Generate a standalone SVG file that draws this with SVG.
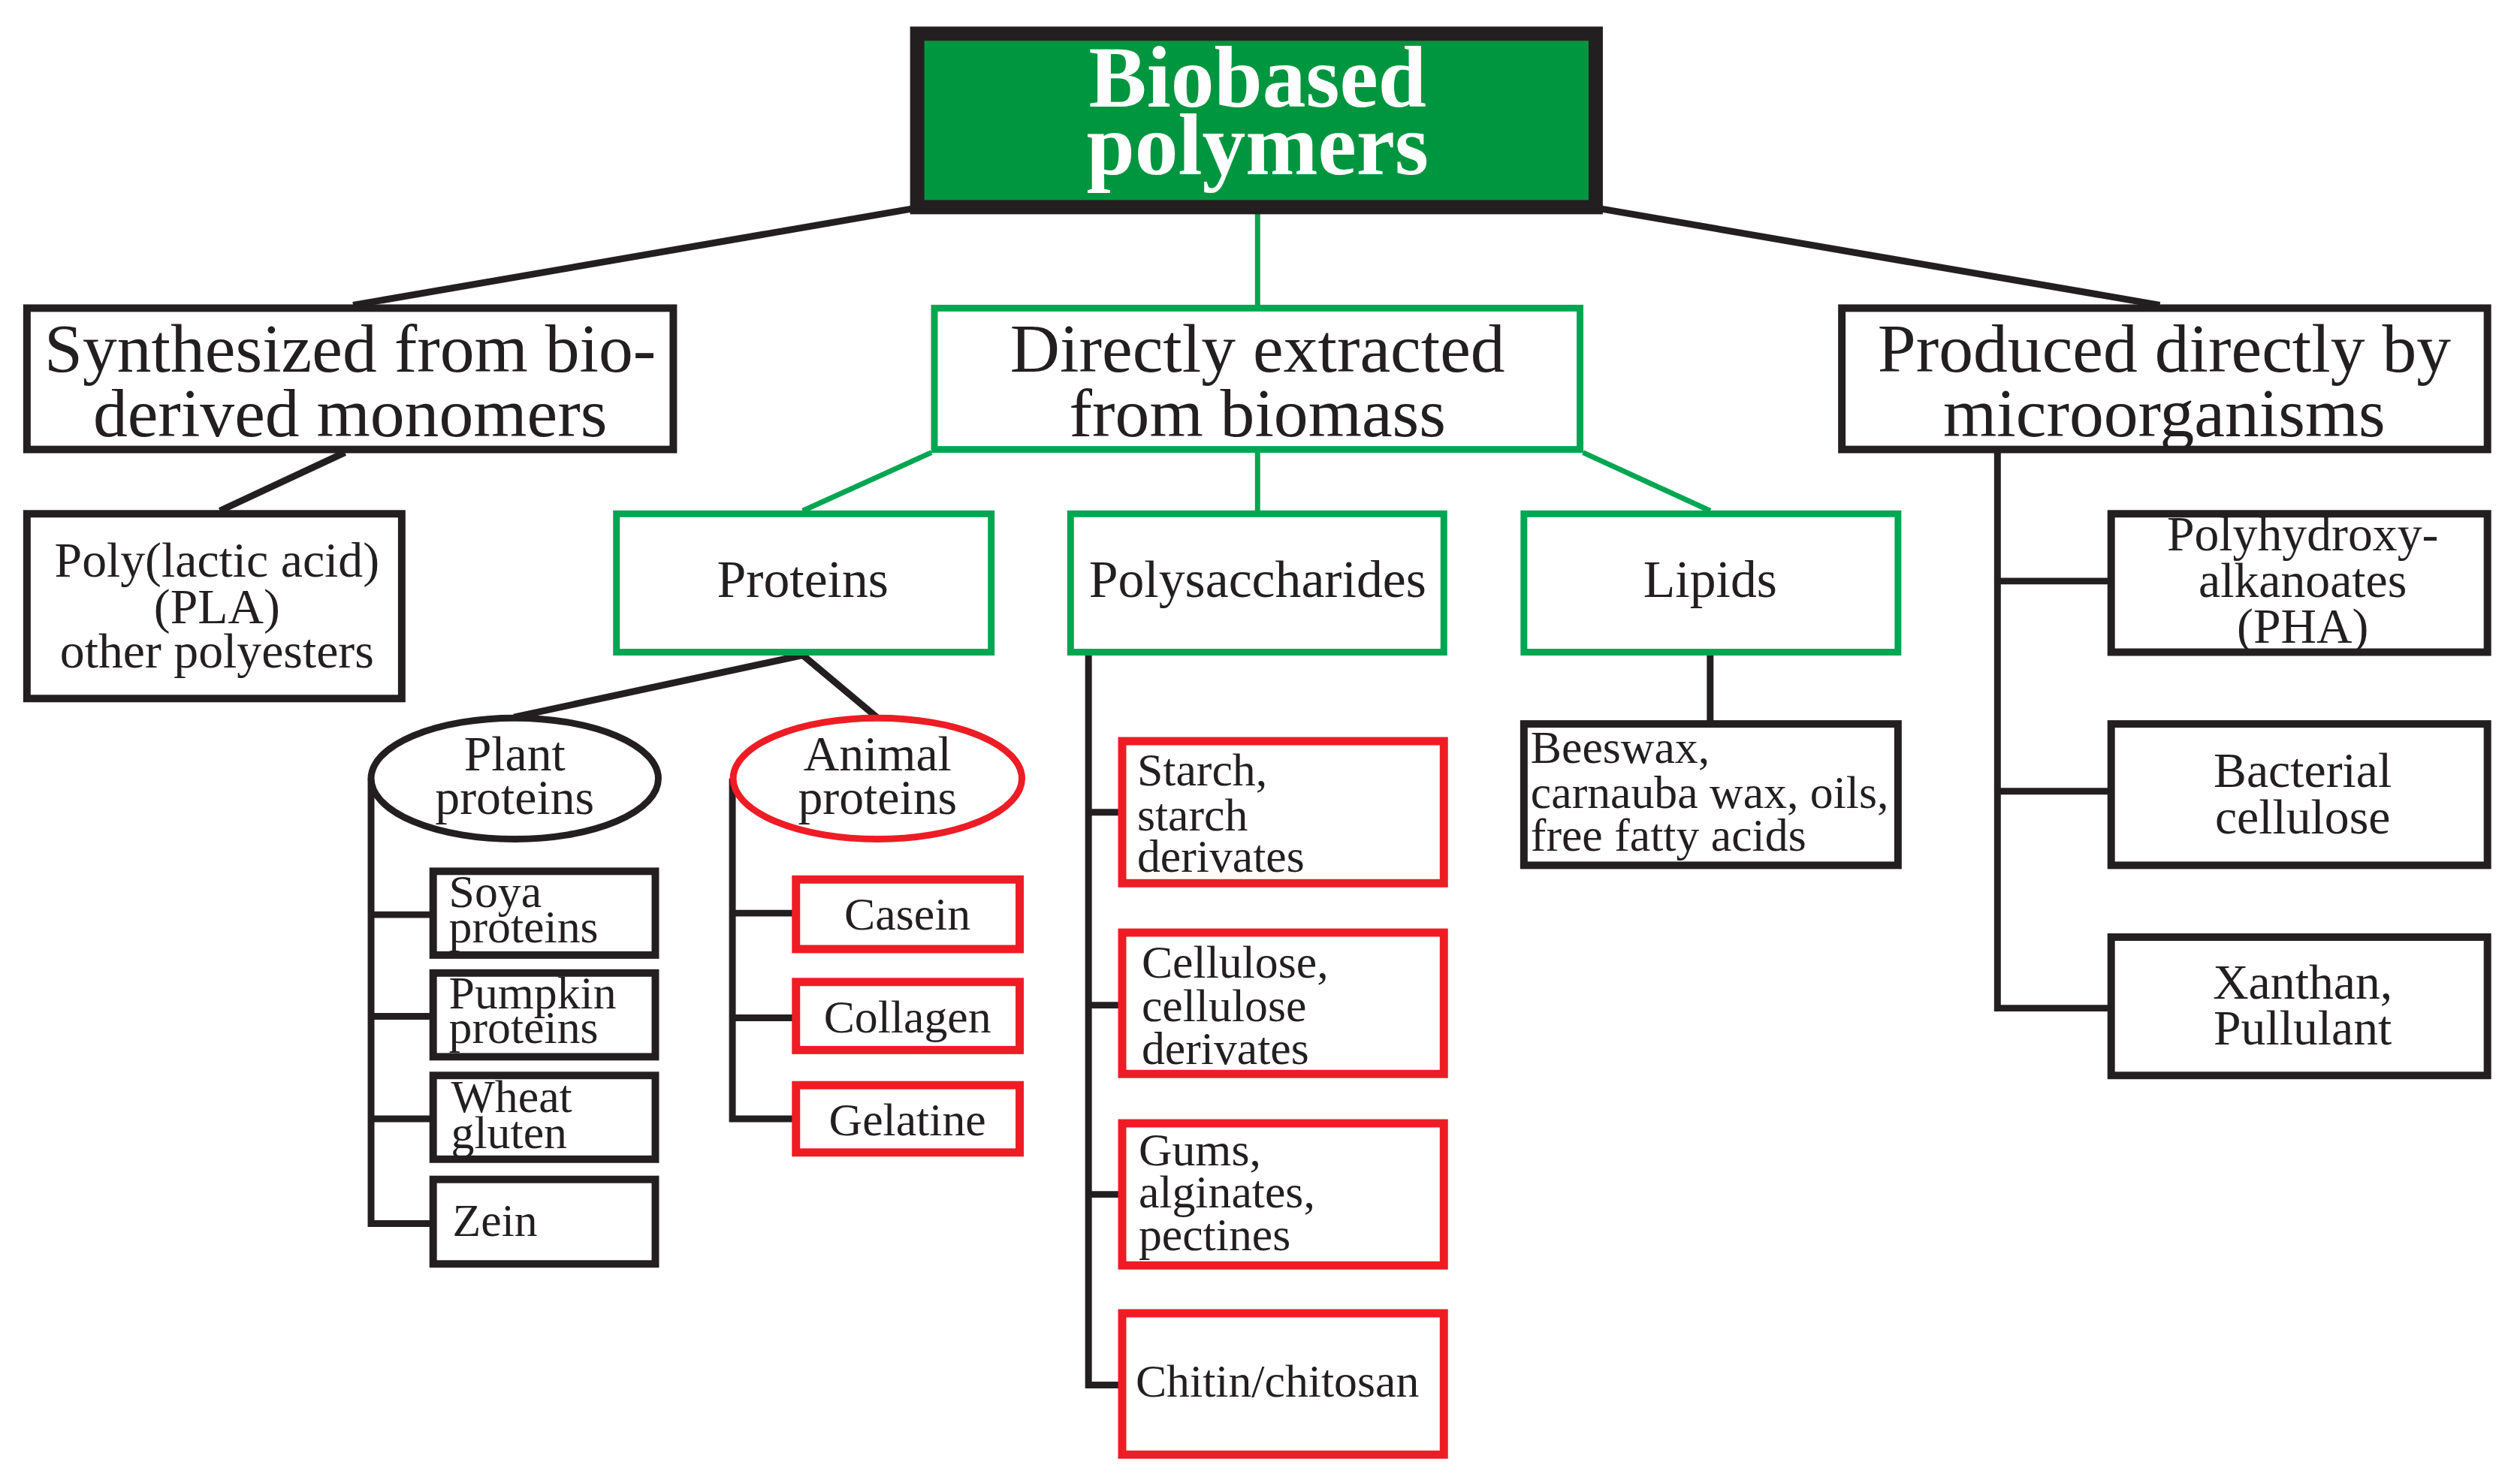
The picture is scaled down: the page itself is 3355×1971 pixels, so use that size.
<svg xmlns="http://www.w3.org/2000/svg" width="3355" height="1971" viewBox="0 0 3355 1971">
<style>
text{font-family:"Liberation Serif","Times New Roman",serif;fill:#231f20}
.c{text-anchor:middle}
.bk{fill:#fff;stroke:#231f20;stroke-width:10}
.gr{fill:#fff;stroke:#00a651;stroke-width:9}
.rd{fill:#fff;stroke:#ee1c25;stroke-width:11}
.lb{fill:none;stroke:#231f20;stroke-width:9}
.lg{fill:none;stroke:#00a651;stroke-width:7}
.f92{font-size:92px}
.f70{font-size:70px}
.f66{font-size:66px}
.f62{font-size:62px}
</style>
<rect width="3355" height="1971" fill="#fff"/>
<g transform="scale(0.996)">
<g id="connectors">
<line class="lb" x1="1220" y1="279" x2="472" y2="408"/>
<line class="lb" x1="2139" y1="279" x2="2887" y2="408"/>
<line class="lg" x1="1681" y1="285" x2="1681" y2="408"/>
<line class="lb" x1="461" y1="605" x2="294" y2="683"/>
<line class="lg" x1="1245" y1="605" x2="1073" y2="683"/>
<line class="lg" x1="1681" y1="605" x2="1681" y2="683"/>
<line class="lg" x1="2116" y1="605" x2="2286" y2="683"/>
<line class="lb" x1="1073" y1="876" x2="687" y2="959"/>
<line class="lb" x1="1073" y1="876" x2="1172" y2="959"/>
<line class="lb" x1="2286" y1="876" x2="2286" y2="964"/>
<polyline class="lb" points="2670,605 2670,1348 2818,1348"/>
<line class="lb" x1="2670" y1="777" x2="2818" y2="777"/>
<line class="lb" x1="2670" y1="1058" x2="2818" y2="1058"/>
<polyline class="lb" points="496,1041 496,1636 575,1636"/>
<line class="lb" x1="496" y1="1223" x2="575" y2="1223"/>
<line class="lb" x1="496" y1="1359" x2="575" y2="1359"/>
<line class="lb" x1="496" y1="1496" x2="575" y2="1496"/>
<polyline class="lb" points="979,1041 979,1496 1060,1496"/>
<line class="lb" x1="979" y1="1221" x2="1060" y2="1221"/>
<line class="lb" x1="979" y1="1361" x2="1060" y2="1361"/>
<polyline class="lb" points="1455,876 1455,1852 1496,1852"/>
<line class="lb" x1="1455" y1="1086" x2="1496" y2="1086"/>
<line class="lb" x1="1455" y1="1344" x2="1496" y2="1344"/>
<line class="lb" x1="1455" y1="1597" x2="1496" y2="1597"/>
</g>
<g id="root">
<rect x="1226" y="45" width="907" height="232" fill="#00963f" stroke="#231f20" stroke-width="19"/>
<text class="c" x="1681" y="143" style="font-size:116px;font-weight:bold;fill:#fff">Biobased</text>
<text class="c" x="1681" y="233" style="font-size:116px;font-weight:bold;fill:#fff">polymers</text>
</g>
<g id="synthesized">
<rect class="bk" x="36" y="412" width="864" height="189"/>
<text class="c f92" x="468" y="497">Synthesized from bio-</text>
<text class="c f92" x="468" y="583">derived monomers</text>
</g>
<g id="directly">
<rect class="gr" x="1249" y="412" width="863" height="189"/>
<text class="c f92" x="1681" y="497">Directly extracted</text>
<text class="c f92" x="1681" y="583">from biomass</text>
</g>
<g id="produced">
<rect class="bk" x="2462" y="412" width="863" height="189"/>
<text class="c f92" x="2893" y="497">Produced directly by</text>
<text class="c f92" x="2893" y="583">microorganisms</text>
</g>
<g id="pla">
<rect class="bk" x="36" y="687" width="501" height="247"/>
<text class="c f66" x="290" y="771">Poly(lactic acid)</text>
<text class="c f66" x="290" y="833">(PLA)</text>
<text class="c f66" x="290" y="893">other polyesters</text>
</g>
<g id="proteins">
<rect class="gr" x="824" y="687" width="501" height="185"/>
<text class="c f70" x="1073" y="798">Proteins</text>
</g>
<g id="polysaccharides">
<rect class="gr" x="1431" y="687" width="499" height="185"/>
<text class="c f70" x="1681" y="798">Polysaccharides</text>
</g>
<g id="lipids">
<rect class="gr" x="2037" y="687" width="500" height="185"/>
<text class="c f70" x="2286" y="798">Lipids</text>
</g>
<g id="pha">
<rect class="bk" x="2822" y="687" width="503" height="185"/>
<text class="c f66" x="3078" y="736">Polyhydroxy-</text>
<text class="c f66" x="3078" y="798">alkanoates</text>
<text class="c f66" x="3078" y="859">(PHA)</text>
</g>
<g id="bacterial">
<rect class="bk" x="2822" y="968" width="503" height="189"/>
<text class="c f66" x="3078" y="1052">Bacterial</text>
<text class="c f66" x="3078" y="1114">cellulose</text>
</g>
<g id="xanthan">
<rect class="bk" x="2822" y="1253" width="503" height="185"/>
<text class="c f66" x="3078" y="1335">Xanthan,</text>
<text class="c f66" x="3078" y="1397">Pullulant</text>
</g>
<g id="beeswax">
<rect class="bk" x="2037" y="968" width="500" height="189"/>
<text class="f62" x="2046" y="1020">Beeswax,</text>
<text class="f62" x="2046" y="1080">carnauba wax, oils,</text>
<text class="f62" x="2046" y="1138">free fatty acids</text>
</g>
<g id="plant">
<ellipse cx="688" cy="1041" rx="192" ry="81" fill="#fff" stroke="#231f20" stroke-width="9"/>
<text class="c f66" x="688" y="1030">Plant</text>
<text class="c f66" x="688" y="1088">proteins</text>
</g>
<g id="animal">
<ellipse cx="1173" cy="1041" rx="193" ry="81" fill="#fff" stroke="#ee1c25" stroke-width="9"/>
<text class="c f66" x="1173" y="1030">Animal</text>
<text class="c f66" x="1173" y="1088">proteins</text>
</g>
<g id="soya">
<rect class="bk" x="579" y="1165" width="297" height="112"/>
<text class="f62" x="600" y="1213">Soya</text>
<text class="f62" x="600" y="1260">proteins</text>
</g>
<g id="pumpkin">
<rect class="bk" x="579" y="1301" width="297" height="112"/>
<text class="f62" x="600" y="1348">Pumpkin</text>
<text class="f62" x="600" y="1395">proteins</text>
</g>
<g id="wheat">
<rect class="bk" x="579" y="1438" width="297" height="112"/>
<text class="f62" x="603" y="1487">Wheat</text>
<text class="f62" x="603" y="1535">gluten</text>
</g>
<g id="zein">
<rect class="bk" x="579" y="1577" width="297" height="113"/>
<text class="f62" x="605" y="1653">Zein</text>
</g>
<g id="casein">
<rect class="rd" x="1064" y="1176" width="299" height="93"/>
<text class="c f62" x="1213" y="1243">Casein</text>
</g>
<g id="collagen">
<rect class="rd" x="1064" y="1313" width="299" height="91"/>
<text class="c f62" x="1213" y="1381">Collagen</text>
</g>
<g id="gelatine">
<rect class="rd" x="1064" y="1451" width="299" height="90"/>
<text class="c f62" x="1213" y="1518">Gelatine</text>
</g>
<g id="starch">
<rect class="rd" x="1500" y="991" width="430" height="190"/>
<text class="f62" x="1520" y="1050">Starch,</text>
<text class="f62" x="1520" y="1110">starch</text>
<text class="f62" x="1520" y="1166">derivates</text>
</g>
<g id="cellulose">
<rect class="rd" x="1500" y="1247" width="430" height="189"/>
<text class="f62" x="1526" y="1307">Cellulose,</text>
<text class="f62" x="1526" y="1365">cellulose</text>
<text class="f62" x="1526" y="1423">derivates</text>
</g>
<g id="gums">
<rect class="rd" x="1500" y="1502" width="430" height="190"/>
<text class="f62" x="1522" y="1558">Gums,</text>
<text class="f62" x="1522" y="1614">alginates,</text>
<text class="f62" x="1522" y="1672">pectines</text>
</g>
<g id="chitin">
<rect class="rd" x="1500" y="1756" width="430" height="189"/>
<text class="f62" x="1518" y="1867">Chitin/chitosan</text>
</g>
</g>
</svg>
